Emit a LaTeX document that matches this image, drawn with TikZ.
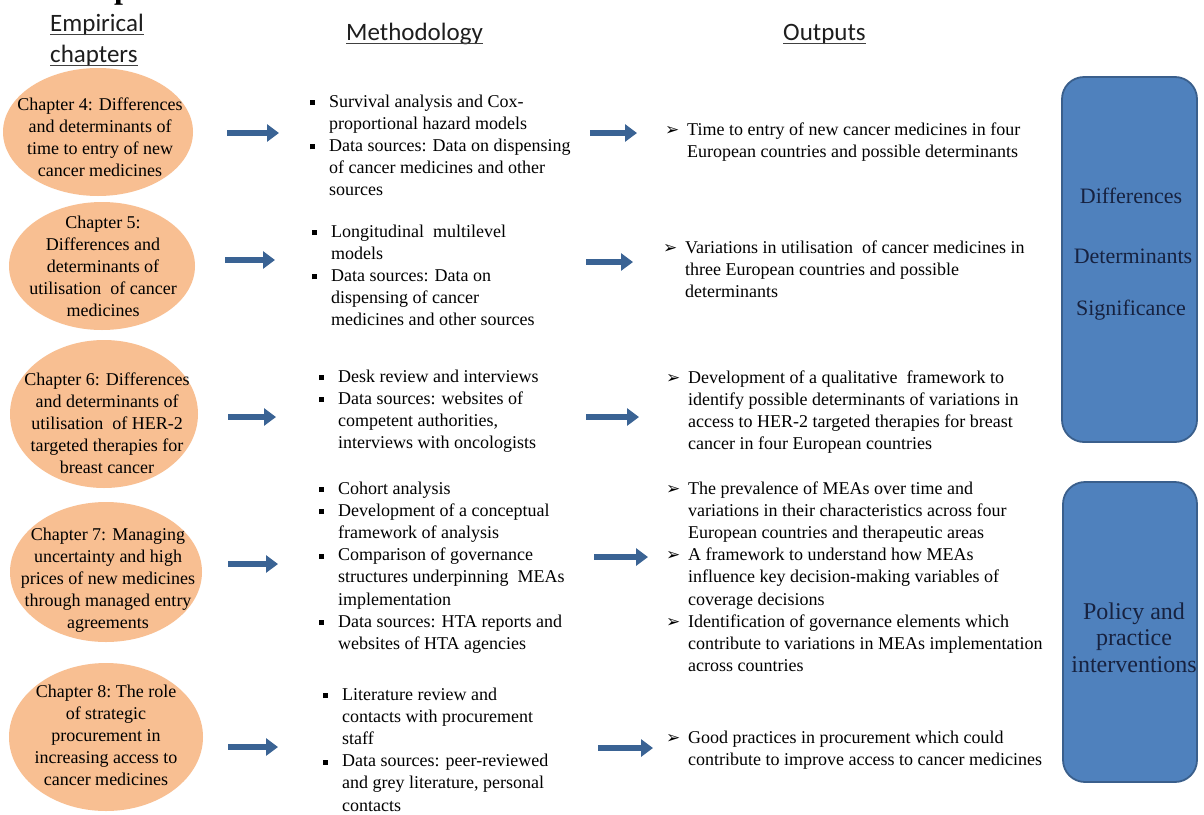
\documentclass[tikz,border=0pt]{standalone}
\usepackage{fontspec}
\setmainfont{Liberation Serif}
\newfontfamily\hdfont{Carlito}
\newfontfamily\dvs{DejaVu Sans}
\usetikzlibrary{arrows.meta,shapes.geometric}

\definecolor{chapfill}{HTML}{F8BF92}
\definecolor{flowblue}{HTML}{3A6394}
\definecolor{sumfill}{HTML}{4F81BD}
\definecolor{sumedge}{HTML}{3A5F8C}
\definecolor{sumtext}{HTML}{172240}
\definecolor{hdtext}{HTML}{1E1E1E}

% list markers
\newcommand\sqb{\makebox[19pt][l]{\rule[2pt]{5pt}{5pt}}}
\newcommand\arb{\makebox[22pt][l]{\dvs\fontsize{17}{17}\selectfont ➢}}
% stacked lines, baseline at the first line
\newcommand\stackc[1]{\begin{tabular}[t]{@{}c@{}}#1\end{tabular}}
\newcommand\listl[1]{\begin{tabular}[t]{@{}l@{}l@{}}#1\end{tabular}}

\tikzset{
  chap/.style={ellipse, fill=chapfill, draw=none, inner sep=0pt},
  body/.style={inner sep=0pt, font=\rmfamily\fontsize{18}{22.2}\selectfont},
  ctext/.style={body, anchor=base},
  ltext/.style={body, anchor=base west},
  head/.style={inner sep=0pt, anchor=base west, text=hdtext,
    font=\hdfont\fontsize{25}{30}\selectfont},
  uline/.style={draw=hdtext!85, line width=1.3pt},
  flow/.style={draw=flowblue, line width=6pt,
    -{Triangle[length=12pt,width=17pt]}},
  sumbox/.style={rectangle, rounded corners=22pt, fill=sumfill,
    draw=sumedge, line width=1.8pt, inner sep=0pt},
  sumtxt/.style={inner sep=0pt, anchor=base, text=sumtext},
  sumA/.style={sumtxt, font=\rmfamily\fontsize{22}{26}\selectfont},
  sumB/.style={sumtxt, font=\rmfamily\fontsize{24}{26.5}\selectfont},
}

\begin{document}
\begin{tikzpicture}[x=1pt, y=-1pt]
\useasboundingbox (0,0) rectangle (1204,814);
\fill[white] (0,0) rectangle (1204,814);

% remnant of the title line above the columns
\node[inner sep=0pt, anchor=base west, font=\rmfamily\bfseries\fontsize{32}{32}\selectfont] (ttl) at (114,-2) {p};

% column headings
\node[head] (h1a) at (50,31) {Empirical};
\node[head] (h1b) at (50,62) {chapters};
\node[head] (h2) at (346,40) {Methodology};
\node[head] (h3) at (783,40) {Outputs};
\foreach \h in {h1a,h1b,h2,h3}
  \draw[uline] ([yshift=-3.5pt]\h.base west) -- ([yshift=-3.5pt]\h.base east);

% empirical chapters
\node[chap, minimum width=190pt, minimum height=128pt] (ch1) at (98,132) {};
\node[chap, minimum width=186pt, minimum height=128pt] (ch2) at (102,266) {};
\node[chap, minimum width=188pt, minimum height=148pt] (ch3) at (104,414) {};
\node[chap, minimum width=192pt, minimum height=140pt] (ch4) at (106,572) {};
\node[chap, minimum width=194pt, minimum height=148pt] (ch5) at (106,737) {};

\node[ctext] (ct1) at (100,110) {\stackc{Chapter 4: Differences\\ and determinants of\\ time to entry of new\\ cancer medicines}};
\node[ctext] (ct2) at (103,228) {\stackc{Chapter 5:\\ Differences and\\ determinants of\\ utilisation\ \ of cancer\\ medicines}};
\node[ctext] (ct3) at (107,385) {\stackc{Chapter 6: Differences\\ and determinants of\\ utilisation\ \ of HER-2\\ targeted therapies for\\ breast cancer}};
\node[ctext] (ct4) at (108,540) {\stackc{Chapter 7: Managing\\ uncertainty and high\\ prices of new medicines\\ through managed entry\\ agreements}};
\node[ctext] (ct5) at (106,697) {\stackc{Chapter 8:\ The role\\ of strategic\\ procurement in\\ increasing\ access to\\ cancer medicines}};

% methodology
\node[ltext] (m1) at (310,107) {\listl{\sqb & Survival\ analysis\ and Cox-\\ & proportional\ hazard models\\ \sqb & Data sources: Data on dispensing\\ & of cancer medicines and other\\ & sources}};
\node[ltext] (m2) at (312,237) {\listl{\sqb & Longitudinal\ \ multilevel\\ & models\\ \sqb & Data sources: Data on\\ & dispensing\ of cancer\\ & medicines\ and other sources}};
\node[ltext] (m3) at (319,382) {\listl{\sqb & Desk review and interviews\\ \sqb & Data sources: websites of\\ & competent authorities,\\ & interviews with\ oncologists}};
\node[ltext] (m4) at (319,494) {\listl{\sqb & Cohort analysis\\ \sqb & Development of a conceptual\\ & framework of analysis\\ \sqb & Comparison\ of governance\\ & structures underpinning\ \ MEAs\\ & implementation\\ \sqb & Data sources: HTA reports and\\ & websites of HTA agencies}};
\node[ltext] (m5) at (323,700) {\listl{\sqb & Literature review and\\ & contacts with procurement\\ & staff\\ \sqb & Data sources: peer-reviewed\\ & and grey literature, personal\\ & contacts}};

% outputs
\node[ltext] (o1) at (665,135) {\listl{\arb & Time to entry of new cancer medicines in four\\ & European countries and possible determinants}};
\node[ltext] (o2) at (663,253) {\listl{\arb & Variations in utilisation\ \ of cancer medicines in\\ & three European countries and possible\\ & determinants}};
\node[ltext] (o3) at (666,383) {\listl{\arb & Development of a qualitative\ \ framework to\\ & identify possible determinants of variations in\\ & access to HER-2 targeted therapies for breast\\ & cancer in four European countries}};
\node[ltext] (o4) at (666,494) {\listl{\arb & The prevalence of MEAs over time and\\ & variations in their characteristics across four\\ & European countries and therapeutic areas\\ \arb & A framework to understand how MEAs\\ & influence key decision-making variables of\\ & coverage decisions\\ \arb & Identification of governance elements which\\ & contribute to variations in MEAs implementation\\ & across countries}};
\node[ltext] (o5) at (666,743) {\listl{\arb & Good practices in procurement which could\\ & contribute to improve access to cancer medicines}};

% summary boxes
\node[sumbox, minimum width=135pt, minimum height=365pt] (b1) at (1129.5,259.5) {};
\node[sumbox, minimum width=134pt, minimum height=300pt] (b2) at (1130,632) {};
\node[sumA] (b1a) at (1131,203) {Differences};
\node[sumA] (b1b) at (1133,263) {Determinants};
\node[sumA] (b1c) at (1131,315) {Significance};
\node[sumB] (b2t) at (1134,619)
  {\stackc{Policy and\\ practice\\ interventions}};

% flow arrows: chapter -> methodology
\coordinate (la1s) at (227,133); \coordinate (la1e) at (279,133);
\coordinate (la2s) at (225,260); \coordinate (la2e) at (275,260);
\coordinate (la3s) at (228,417); \coordinate (la3e) at (276,417);
\coordinate (la4s) at (228,564); \coordinate (la4e) at (278,564);
\coordinate (la5s) at (228,747); \coordinate (la5e) at (278,747);
% flow arrows: methodology -> outputs
\coordinate (ma1s) at (590,133); \coordinate (ma1e) at (637,133);
\coordinate (ma2s) at (586,262); \coordinate (ma2e) at (633,262);
\coordinate (ma3s) at (586,417); \coordinate (ma3e) at (639,417);
\coordinate (ma4s) at (594,557); \coordinate (ma4e) at (648,557);
\coordinate (ma5s) at (598,748); \coordinate (ma5e) at (653,748);
\foreach \a in {la1,la2,la3,la4,la5,ma1,ma2,ma3,ma4,ma5}
  \draw[flow] (\a s) -- (\a e);
\end{tikzpicture}
\end{document}
